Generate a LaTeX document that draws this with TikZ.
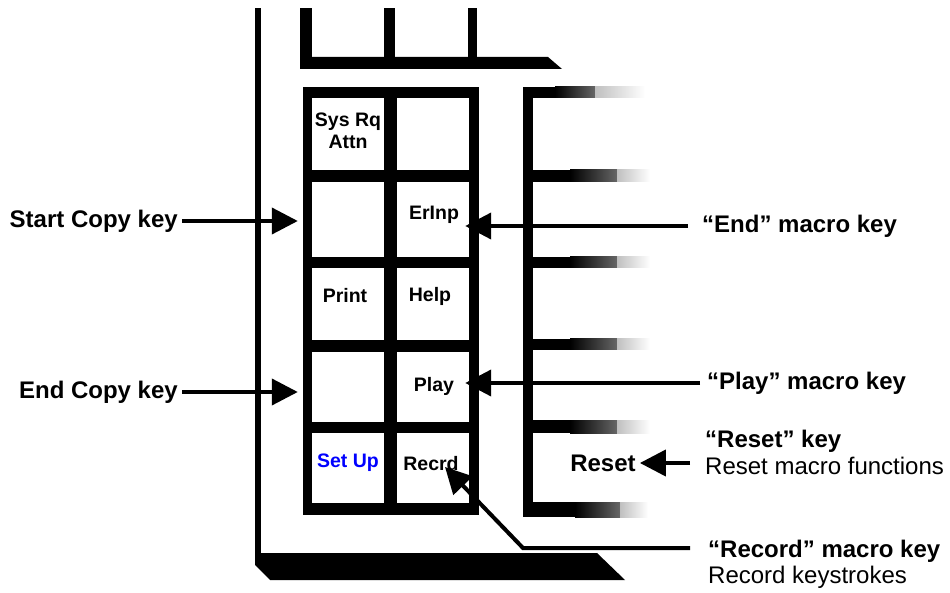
\documentclass[tikz,border=0pt]{standalone}
\usepackage{fontspec}
\setmainfont{Liberation Sans}
\usetikzlibrary{arrows.meta}
\definecolor{setupblue}{RGB}{0,0,255}
\begin{document}
\begin{tikzpicture}[x=1pt,y=-1pt,
  lbl/.style={font=\fontsize{24}{28}\selectfont\bfseries, inner sep=0pt},
  sub/.style={font=\fontsize{24}{28}\selectfont, inner sep=0pt},
  keylbl/.style={font=\fontsize{19.5}{22}\selectfont\bfseries, inner sep=0pt, align=center},
  arr/.style={line width=4pt, -{Triangle[length=26pt,width=26pt]}},
  cell/.style={fill=white, inner sep=0pt, minimum width=72pt}]
\useasboundingbox[fill=white] (0,0) rectangle (950,593);

% outer casing
\fill (255,8) rectangle (261,556);
\fill (255,553) -- (597,553) -- (625,580) -- (270,580) -- (255,565) -- cycle;

% top keys (partial)
\fill (300,8) rectangle (312,69);
\fill (384,8) rectangle (395,69);
\fill (468,8) rectangle (477,69);
\fill (300,57) -- (548,57) -- (562,69) -- (300,69) -- cycle;

% main key grid
\fill (303,87) rectangle (479,515);
\node[cell, minimum height=72pt] (k11) at (348,134) {};
\node[cell, minimum height=72pt] (k12) at (433,134) {};
\node[cell, minimum height=75pt] (k21) at (348,219.5) {};
\node[cell, minimum height=75pt] (k22) at (433,219.5) {};
\node[cell, minimum height=72pt] (k31) at (348,304) {};
\node[cell, minimum height=72pt] (k32) at (433,304) {};
\node[cell, minimum height=70pt] (k41) at (348,387) {};
\node[cell, minimum height=70pt] (k42) at (433,387) {};
\node[cell, minimum height=70pt] (k51) at (348,468) {};
\node[cell, minimum height=70pt] (k52) at (433,468) {};

\node[keylbl] (sysrq) at (348,131) {Sys Rq\\Attn};
\node[keylbl] (erinp) at (434,215) {ErInp};
\node[keylbl] (print) at (345,296) {Print};
\node[keylbl] (help) at (430,296) {Help};
\node[keylbl] (play) at (434,386) {Play};
\node[keylbl, text=setupblue] (setup) at (348,463) {Set Up};
\node[keylbl] (recrd) at (431,464) {Recrd};

% right column keys (fading)
\fill (523,87) rectangle (533,517);
\foreach \ya/\yb/\xa/\xb/\xc in {87/98/555/595/645, 170/182/570/617/650, 257/268/570/617/650, 339/350/570/617/650, 420/433/570/617/650, 502/517/575/620/648}{
  \fill (523,\ya) rectangle (\xa,\yb);
  \shade[left color=black, right color=black!60] (\xa,\ya) rectangle (\xb,\yb);
  \shade[left color=black!25, right color=white] (\xb,\ya) rectangle (\xc,\yb);
}
\node[lbl] (resetlbl) at (603,463) {Reset};

% left labels
\node[lbl, anchor=east] (startcopy) at (178,221) {Start Copy key};
\node[lbl, anchor=east] (endcopy) at (178,392) {End Copy key};
\draw[arr] ([xshift=4pt]startcopy.east) -- ([xshift=-14pt]k21.west |- startcopy.east);
\draw[arr] ([xshift=4pt]endcopy.east) -- ([xshift=-14pt]k41.west |- endcopy.east);

% right labels
\node[lbl, anchor=west] (endmac) at (702,226) {“End” macro key};
\node[lbl, anchor=west] (playmac) at (707,383) {“Play” macro key};
\node[lbl, anchor=west] (resetkey) at (705,441) {“Reset” key};
\node[sub, anchor=west] (resetsub) at (705,466) {Reset macro functions};
\node[lbl, anchor=west] (recmac) at (708,551) {“Record” macro key};
\node[sub, anchor=west] (recsub) at (708,577) {Record keystrokes};

\draw[arr] ([xshift=-14pt]endmac.west) -- ([xshift=-4pt]k22.east |- endmac.west);
\draw[arr] ([xshift=-7pt]playmac.west) -- ([xshift=-4pt]k42.east |- playmac.west);
\draw[arr] ([shift={(-15,-3)}]resetsub.west) -- ([shift={(4,0)}]resetlbl.east);
\coordinate (recbend) at (523,548);
\coordinate (rectip) at (445,467);
\draw[arr] ([shift={(-18,-3)}]recmac.west) -- (recbend) -- (rectip);
\end{tikzpicture}
\end{document}
